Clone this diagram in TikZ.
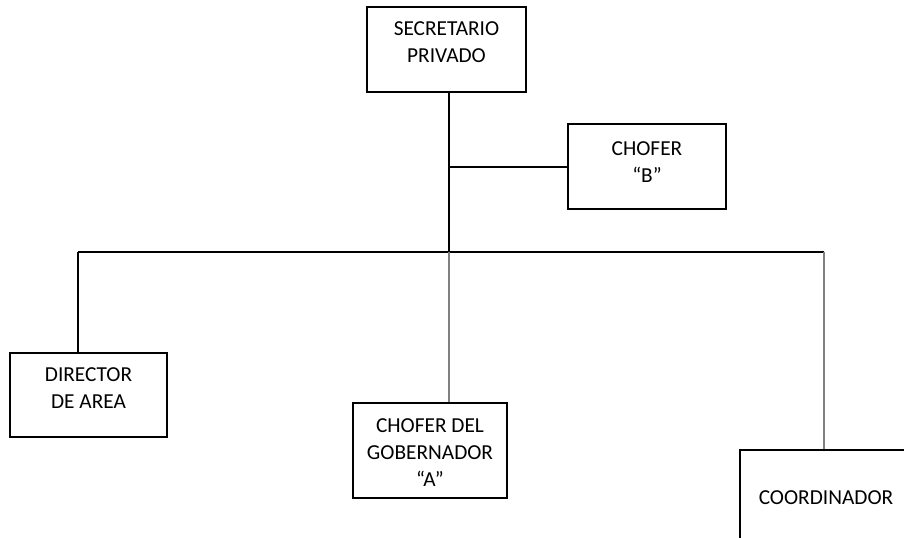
\documentclass[tikz,border=0pt]{standalone}
\usepackage{fontspec}
\setmainfont{Carlito}
\usetikzlibrary{positioning, calc}

\begin{document}
\begin{tikzpicture}[x=0.75pt, y=-0.75pt]
    \tikzset{Caja/.style = {draw, line width=1.5pt, inner sep=0pt}}
    \tikzset{Texto/.style = {align=center, inner sep=0pt, font=\fontsize{16}{20.25}\selectfont}}
    \tikzset{Linea/.style = {line width=1.5pt}}
    \tikzset{LineaFina/.style = {line width=0.8pt, color=gray}}
    \useasboundingbox (0,0) rectangle (904,538);
    \clip (0,0) rectangle (904,538);
    \node[Caja, minimum width=119.25pt, minimum height=63.75pt] (sec) at (446.5, 49.5) {};
    \node[Caja, minimum width=118.5pt, minimum height=63.75pt] (chofB) at (647, 167) {};
    \node[Caja, minimum width=117.75pt, minimum height=63pt] (dir) at (88.5, 395) {};
    \node[Caja, minimum width=115.5pt, minimum height=71.25pt] (gob) at (430, 450.5) {};
    \node[Caja, minimum width=129pt, minimum height=71.25pt] (coord) at (826, 497.5) {};
    \node[Texto] (secT) at ($(sec)+(0,-7.5)$) {SECRETARIO\\PRIVADO};
    \node[Texto] (chofBT) at ($(chofB)+(0,-5)$) {CHOFER\\“B”};
    \node[Texto] (dirT) at ($(dir)+(0,-6.5)$) {DIRECTOR\\DE AREA};
    \node[Texto] (gobT) at ($(gob)+(0,2)$) {CHOFER DEL\\GOBERNADOR\\“A”};
    \node[Texto] (coordT) at ($(coord)+(0,0.5)$) {COORDINADOR};
    % barra horizontal
    \coordinate (izq) at (78, 252);
    \coordinate (bus) at (449, 252);
    \coordinate (der) at (824, 252);
    \draw[Linea] (bus |- sec.south) -- (bus);
    \draw[Linea] (bus |- chofB.west) -- (chofB.west);
    \draw[Linea] (izq) -- (der);
    \draw[Linea] (izq) -- (izq |- dir.north);
    \draw[LineaFina] (bus) -- (bus |- gob.north);
    \draw[LineaFina] (der) -- (der |- coord.north);
\end{tikzpicture}
\end{document}
